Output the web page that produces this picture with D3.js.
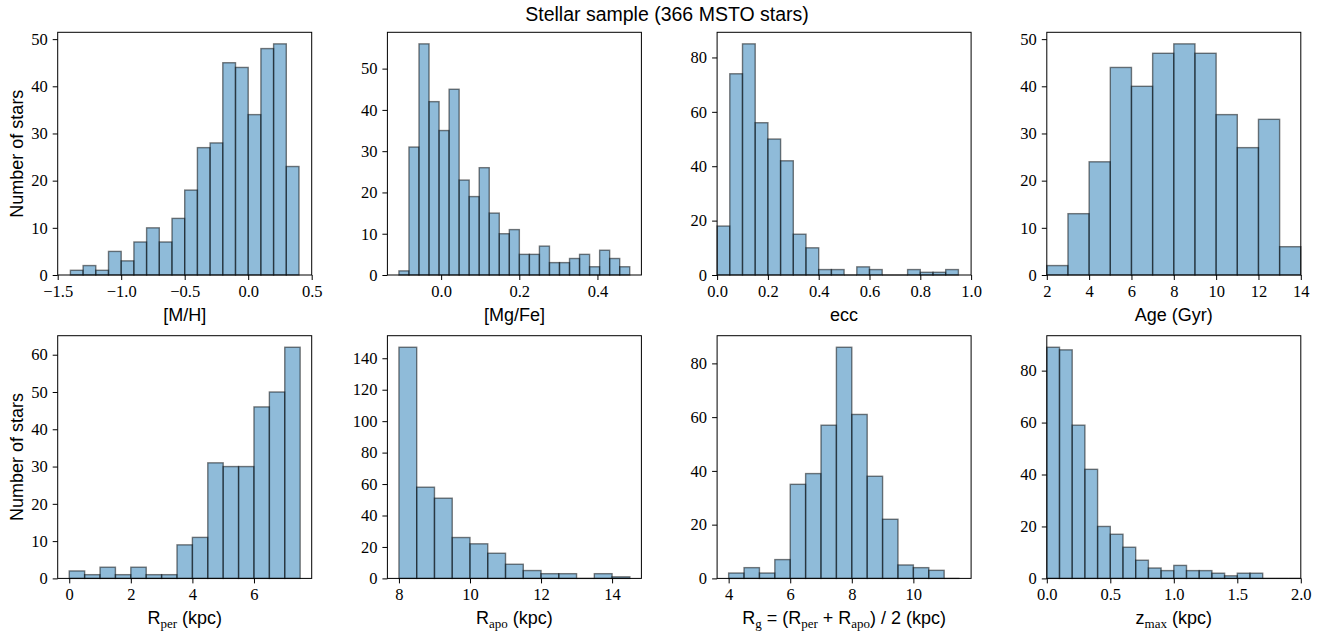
<!DOCTYPE html>
<html><head><meta charset="utf-8">
<script src="https://cdn.jsdelivr.net/npm/d3@7"></script>
<style>
body{margin:0;background:#fff}
svg{display:block}
.lbl{font-family:"Liberation Sans",Arial,sans-serif;font-size:18px;fill:#000}
</style></head><body>
<svg id="chart" width="1332" height="635"></svg>
<script>
// ---------------- data ----------------
const titleText = "Stellar sample (366 MSTO stars)";
const yLabelText = "Number of stars";

// [M/H]
const mhCounts = [1,2,1,5,3,7,10,7,12,18,27,28,45,44,34,48,49,23];
const mhBinStart = -1.4, mhBinWidth = 0.1;
const mhXDomain = [-1.5, 0.5];
const mhXTicks = [-1.5,-1.0,-0.5,0.0,0.5];
const mhYTicks = [0,10,20,30,40,50];

// [Mg/Fe]
const mgCounts = [1,31,56,42,35,45,23,19,26,15,10,11,5,5,7,3,3,4,5,2,6,4,2];
const mgBinStart = -0.108, mgBinWidth = 0.02568;
const mgXDomain = [-0.1375, 0.5125];
const mgXTicks = [0.0,0.2,0.4];
const mgYTicks = [0,10,20,30,40,50];

// ecc
const eccCounts = [18,74,85,56,50,42,15,10,2,2,0,3,2,0,0,2,1,1,2];
const eccBinStart = 0, eccBinWidth = 0.05;
const eccXDomain = [0, 1];
const eccXTicks = [0.0,0.2,0.4,0.6,0.8,1.0];
const eccYTicks = [0,20,40,60,80];

// Age
const ageCounts = [2,13,24,44,40,47,49,47,34,27,33,6];
const ageBinStart = 2, ageBinWidth = 1;
const ageXDomain = [2, 14];
const ageXTicks = [2,4,6,8,10,12,14];
const ageYTicks = [0,10,20,30,40,50];

// R_per
const rperCounts = [2,1,3,1,3,1,1,9,11,31,30,30,46,50,62];
const rperBinStart = 0, rperBinWidth = 0.5;
const rperXDomain = [-0.375, 7.875];
const rperXTicks = [0,2,4,6];
const rperYTicks = [0,10,20,30,40,50,60];

// R_apo
const rapoCounts = [147,58,51,26,22,16,9,5,3,3,0,3,1];
const rapoBinStart = 8, rapoBinWidth = 0.5;
const rapoXDomain = [7.675, 14.825];
const rapoXTicks = [8,10,12,14];
const rapoYTicks = [0,20,40,60,80,100,120,140];

// R_g
const rgCounts = [2,4,2,7,35,39,57,86,61,38,22,5,4,3,0];
const rgBinStart = 4, rgBinWidth = 0.5;
const rgXDomain = [3.625, 11.875];
const rgXTicks = [4,6,8,10];
const rgYTicks = [0,20,40,60,80];

// z_max
const zCounts = [89,88,59,42,20,17,12,7,4,3,5,3,3,2,1,2,2,0,0,0];
const zBinStart = 0, zBinWidth = 0.1;
const zXDomain = [0, 2];
const zXTicks = [0.0,0.5,1.0,1.5,2.0];
const zYTicks = [0,20,40,60,80];

// x labels as text segments (sub = subscript)
const mhLabel   = [{t:"[M/H]"}];
const mgLabel   = [{t:"[Mg/Fe]"}];
const eccLabel  = [{t:"ecc"}];
const ageLabel  = [{t:"Age (Gyr)"}];
const rperLabel = [{t:"R"},{t:"per",sub:true},{t:" (kpc)"}];
const rapoLabel = [{t:"R"},{t:"apo",sub:true},{t:" (kpc)"}];
const rgLabel   = [{t:"R"},{t:"g",sub:true},{t:" = (R"},{t:"per",sub:true},{t:" + R"},{t:"apo",sub:true},{t:") / 2 (kpc)"}];
const zLabel    = [{t:"z"},{t:"max",sub:true},{t:" (kpc)"}];

// ---------------- panels table ----------------
const panels = [
  {counts:mhCounts, start:mhBinStart, w:mhBinWidth, xd:mhXDomain, xt:mhXTicks, yt:mhYTicks, fmt:".1f", label:mhLabel, ylab:true},
  {counts:mgCounts, start:mgBinStart, w:mgBinWidth, xd:mgXDomain, xt:mgXTicks, yt:mgYTicks, fmt:".1f", label:mgLabel},
  {counts:eccCounts, start:eccBinStart, w:eccBinWidth, xd:eccXDomain, xt:eccXTicks, yt:eccYTicks, fmt:".1f", label:eccLabel},
  {counts:ageCounts, start:ageBinStart, w:ageBinWidth, xd:ageXDomain, xt:ageXTicks, yt:ageYTicks, fmt:"d", label:ageLabel},
  {counts:rperCounts, start:rperBinStart, w:rperBinWidth, xd:rperXDomain, xt:rperXTicks, yt:rperYTicks, fmt:"d", label:rperLabel, ylab:true},
  {counts:rapoCounts, start:rapoBinStart, w:rapoBinWidth, xd:rapoXDomain, xt:rapoXTicks, yt:rapoYTicks, fmt:"d", label:rapoLabel},
  {counts:rgCounts, start:rgBinStart, w:rgBinWidth, xd:rgXDomain, xt:rgXTicks, yt:rgYTicks, fmt:"d", label:rgLabel},
  {counts:zCounts, start:zBinStart, w:zBinWidth, xd:zXDomain, xt:zXTicks, yt:zYTicks, fmt:".1f", label:zLabel}
];

// ---------------- layout ----------------
const colLeft = [57.7, 387.4, 717.1, 1046.8];
const rowTop = [32.3, 335.7];
const pw = 254, ph = 242.7;

const svg = d3.select("#chart");

svg.append("text")
  .attr("x", 667).attr("y", 21)
  .attr("text-anchor","middle")
  .attr("font-family","Liberation Sans, Arial, sans-serif")
  .attr("font-size", 19.5)
  .text(titleText);

panels.forEach((p, i) => {
  const col = i % 4, row = Math.floor(i / 4);
  const g = svg.append("g").attr("transform", `translate(${colLeft[col]},${rowTop[row]})`);
  const x = d3.scaleLinear().domain(p.xd).range([0, pw]);
  const ymax = d3.max(p.counts) * 1.05;
  const y = d3.scaleLinear().domain([0, ymax]).range([ph, 0]);

  const bins = p.counts.map((c, k) => ({x0: p.start + k * p.w, x1: p.start + (k + 1) * p.w, c}));

  g.append("g").selectAll("rect").data(bins.filter(b => b.c > 0)).join("rect")
    .attr("x", b => x(b.x0))
    .attr("width", b => x(b.x1) - x(b.x0))
    .attr("y", b => y(b.c))
    .attr("height", b => y(0) - y(b.c))
    .attr("fill", "#1f77b4").attr("fill-opacity", 0.5)
    .attr("stroke", "#000").attr("stroke-opacity", 0.5).attr("stroke-width", 1.4);

  g.append("g").selectAll("line").data(bins.filter(b => b.c === 0)).join("line")
    .attr("x1", b => x(b.x0)).attr("x2", b => x(b.x1))
    .attr("y1", y(0)).attr("y2", y(0))
    .attr("stroke", "#000").attr("stroke-opacity", 0.5).attr("stroke-width", 1.4);

  const xa = g.append("g").attr("transform", `translate(0,${ph})`)
    .call(d3.axisBottom(x).tickValues(p.xt).tickFormat(d3.format(p.fmt)).tickSize(5).tickPadding(5));
  const ya = g.append("g")
    .call(d3.axisLeft(y).tickValues(p.yt).tickFormat(d3.format("d")).tickSize(5).tickPadding(5));
  [xa, ya].forEach(a => {
    a.attr("font-family", "Liberation Serif, Times New Roman, serif").attr("font-size", 16.5);
    a.select(".domain").remove();
    a.selectAll(".tick line").attr("stroke", "#000").attr("stroke-width", 1);
    a.selectAll(".tick text").attr("fill", "#000")
      .style("font-family", "'Liberation Serif', 'Times New Roman', serif").style("font-size", "16.5px");
  });

  g.append("rect").attr("x", 0).attr("y", 0).attr("width", pw).attr("height", ph)
    .attr("fill", "none").attr("stroke", "#000").attr("stroke-width", 1);

  const t = g.append("text").attr("class", "lbl")
    .attr("x", pw / 2).attr("y", ph + 46).attr("text-anchor", "middle");
  let shifted = false;
  p.label.forEach(s => {
    const ts = t.append("tspan").text(s.t);
    if (s.sub) {
      ts.style("font-family", "'Liberation Serif', serif").style("font-size", "13px").attr("dy", 4);
      shifted = true;
    } else if (shifted) {
      ts.attr("dy", -4);
      shifted = false;
    }
  });

  if (p.ylab) {
    g.append("text").attr("class", "lbl")
      .attr("transform", `translate(${23 - colLeft[col]},${ph / 2}) rotate(-90)`)
      .attr("text-anchor", "middle")
      .text(yLabelText);
  }
});
</script>
</body></html>
